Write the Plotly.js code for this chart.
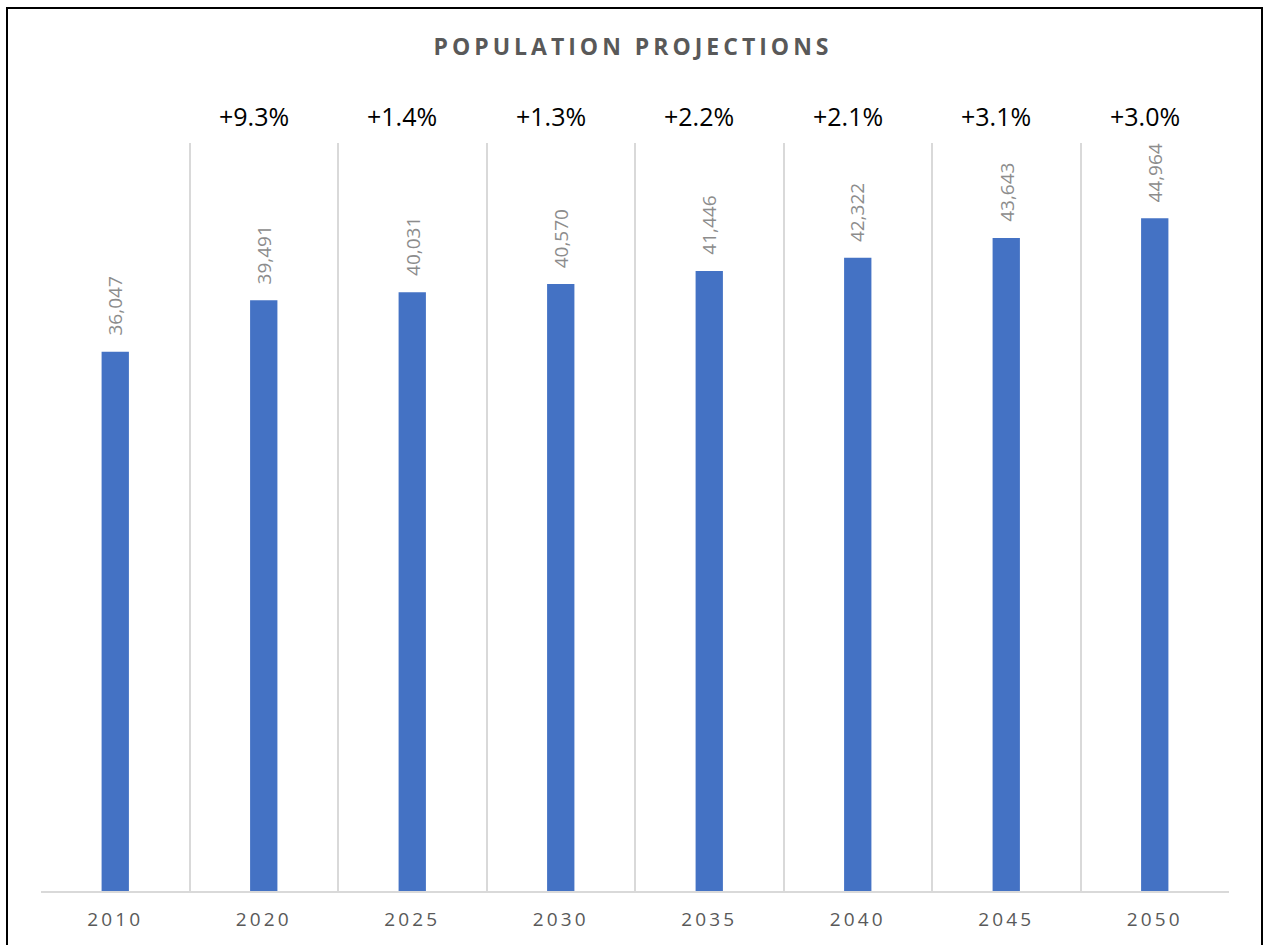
<!DOCTYPE html>
<html>
<head>
<meta charset="utf-8">
<script src="https://cdn.plot.ly/plotly-3.0.1.min.js"></script>
<style>
  html, body { margin: 0; padding: 0; background: #fff; }
  #chart { width: 1266px; height: 945px; position: absolute; left: 0; top: 0; }
  #frame { position: absolute; left: 6px; top: 7px; width: 1253px; height: 1000px;
           border: 2px solid #000; pointer-events: none; }
  .gtitle { letter-spacing: 4px; }
  .xtick text { letter-spacing: 3.2px; }
</style>
</head>
<body>
<div id="chart"></div>
<div id="frame"></div>
<script>
const years = ["2010", "2020", "2025", "2030", "2035", "2040", "2045", "2050"];
const population = [36047, 39491, 40031, 40570, 41446, 42322, 43643, 44964];
const growthLabels = ["", "+9.3%", "+1.4%", "+1.3%", "+2.2%", "+2.1%", "+3.1%", "+3.0%"];

const fmt = v => v.toLocaleString("en-US");

const annotations = [];
years.forEach((yr, i) => {
  annotations.push({
    x: i, y: population[i], xref: "x", yref: "y",
    text: fmt(population[i]), textangle: -90, showarrow: false,
    yanchor: "bottom", xanchor: "center", yshift: 14,
    font: { family: "Open Sans, sans-serif", size: 19, color: "#8c8c8c" }
  });
  if (growthLabels[i]) {
    annotations.push({
      x: i, y: 1.036, xref: "x", yref: "paper",
      text: growthLabels[i], showarrow: false,
      yanchor: "middle", xanchor: "center", xshift: -10,
      font: { family: "Open Sans, sans-serif", size: 25, color: "#000000" }
    });
  }
});

const trace = {
  type: "bar",
  x: years,
  y: population,
  marker: { color: "#4472C4" },
  hoverinfo: "x+y"
};

const layout = {
  width: 1266, height: 945,
  margin: { l: 41, r: 37, t: 143, b: 54, pad: 0 },
  paper_bgcolor: "#ffffff", plot_bgcolor: "#ffffff",
  bargap: 0.816,
  showlegend: false,
  title: {
    text: "<b>POPULATION PROJECTIONS</b>",
    x: 0.5, xref: "container", xanchor: "center",
    y: 1 - 47 / 945, yref: "container", yanchor: "middle",
    font: { family: "Open Sans, sans-serif", size: 23, color: "#595959" }
  },
  xaxis: {
    type: "category",
    categoryorder: "array", categoryarray: years,
    range: [-0.5, years.length - 0.5],
    tickson: "boundaries",
    showgrid: true, gridcolor: "#d9d9d9", gridwidth: 2,
    showline: true, linecolor: "#d9d9d9", linewidth: 2,
    ticks: "", ticklen: 0, tickangle: 0,
    ticklabelstandoff: 10,
    tickfont: { family: "Open Sans, sans-serif", size: 19, color: "#595959" },
    zeroline: false, fixedrange: true
  },
  yaxis: {
    range: [0, 50000], visible: false, showgrid: false, zeroline: false, fixedrange: true
  },
  annotations: annotations
};

Plotly.newPlot("chart", [trace], layout, { displayModeBar: false, staticPlot: true });
</script>
</body>
</html>
